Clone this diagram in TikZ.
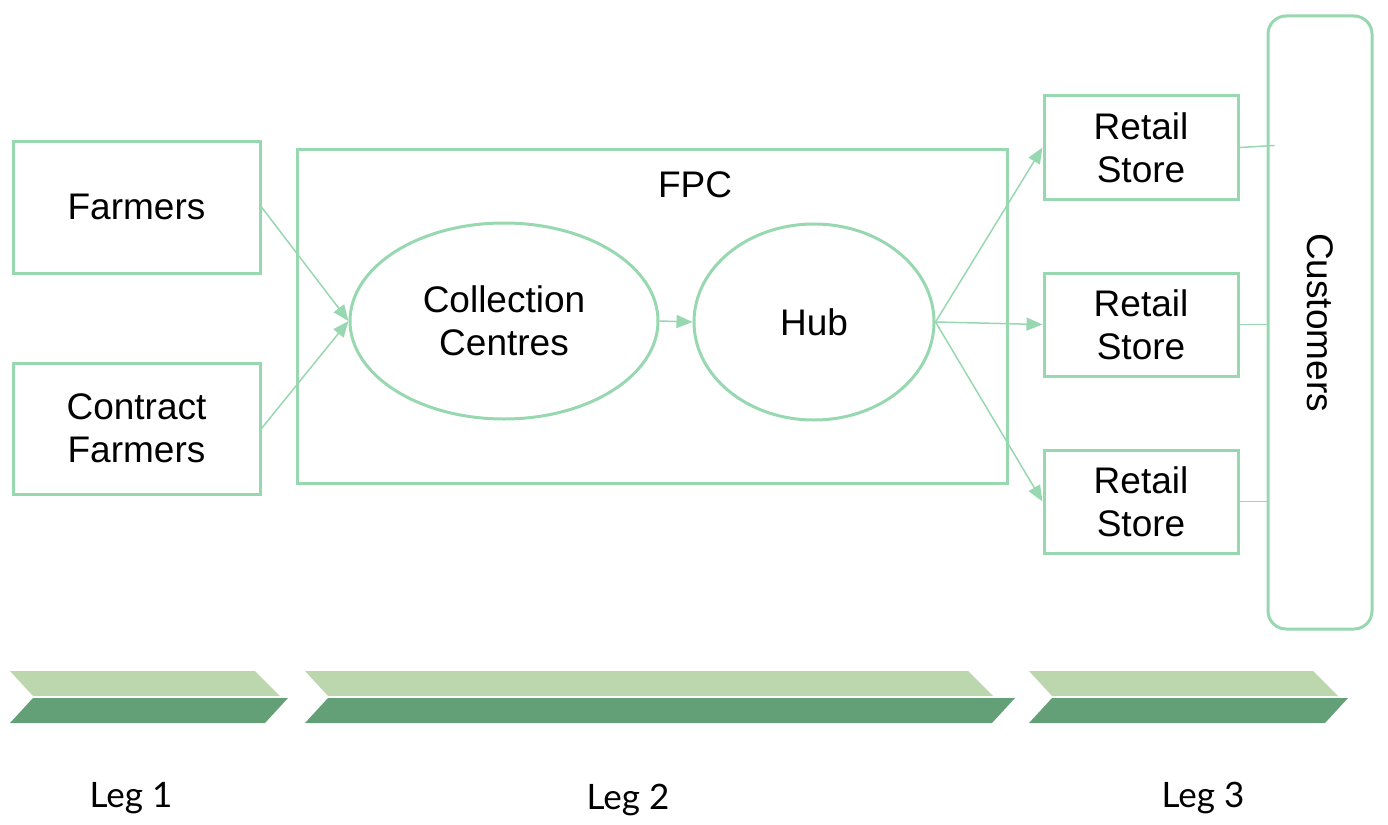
\documentclass[tikz,border=0pt]{standalone}
\usepackage{fontspec}
\setmainfont{Liberation Sans}
\newfontfamily\legfont{Lato}
\definecolor{chaingreen}{HTML}{98D8B0}
\definecolor{legpale}{HTML}{BCD7AE}
\definecolor{legdark}{HTML}{63A077}
\usetikzlibrary{arrows.meta,positioning,shapes.geometric}
\tikzset{
    chainbox/.style={
        draw=chaingreen,
        fill=white,
        line width=3pt,
        align=center,
        inner sep=0pt,
        font=\fontsize{37}{43}\selectfont
    },
    chainstage/.style={
        chainbox,
        shape=ellipse,
        minimum height=196pt
    },
    chainarrow/.style={
        -{Triangle[length=16pt,width=13pt]},
        draw=chaingreen,
        line width=1.5pt
    },
    chainlink/.style={
        draw=chaingreen,
        line width=1.5pt
    },
    leglabel/.style={
        font=\legfont\fontsize{35}{40}\selectfont
    }
}

\begin{document}
\begin{tikzpicture}[x=1pt,y=-1pt]
        \useasboundingbox (0,0) rectangle (1388,824);

        \node[chainbox,minimum width=247pt,minimum height=132pt] (farmers) at (136.5,207)
            {Farmers};
        \node[chainbox,minimum width=247pt,minimum height=131pt] (contract) at (136.5,428.5)
            {Contract\\Farmers};
        \node[chainbox,minimum width=710pt,minimum height=334pt] (fpc) at (652,316) {};
        \node[font=\fontsize{37}{43}\selectfont] (fpclabel) at (695,185) {FPC};
        \node[chainstage,minimum width=308pt] (centres) at (504,321)
            {Collection\\Centres};
        \node[chainstage,minimum width=240pt] (hub) at (814,322) {Hub};

        \foreach \y/\name in {147.5/storea,324.5/storeb,501.5/storec}
            \node[chainbox,minimum width=194pt,minimum height=103pt] (\name) at (1141,\y)
                {Retail\\Store};
        \node[chainbox,rounded corners=18pt,rotate=-90,minimum width=613pt,
              minimum height=104pt] (customers) at (1320,322.5) {Customers};

        \draw[chainarrow] (farmers.east) -- (centres.west);
        \draw[chainarrow] (contract.east) -- (centres.west);
        \draw[chainarrow] (centres.east) -- (hub.west);
        \foreach \name in {storea,storeb,storec}
            \draw[chainarrow] (hub.east) -- (\name.west);
        \draw[chainlink] (storea.east) -- ([xshift=8pt,yshift=2pt]storea.east -| customers.south);
        \draw[chainlink] (storeb.east) -- (storeb.east -| customers.south);
        \draw[chainlink] (storec.east) -- (storec.east -| customers.south);

        % leg bars
        \foreach \xl/\xa/\xb in {10/255/288,305/968/1015,1029/1313/1348} {
            \fill[legpale] (\xl,671) -- (\xa,671) -- (\xa+25,696) -- (\xl+23,696) -- cycle;
            \fill[legdark] (\xl+23,698) -- (\xb,698) -- (\xb-23,723) -- (\xl,723) -- cycle;
        }
        \node[leglabel] (legone) at (131,798) {Leg 1};
        \node[leglabel] (legtwo) at (628,800) {Leg 2};
        \node[leglabel] (legthree) at (1203,798) {Leg 3};
    \end{tikzpicture}
\end{document}
